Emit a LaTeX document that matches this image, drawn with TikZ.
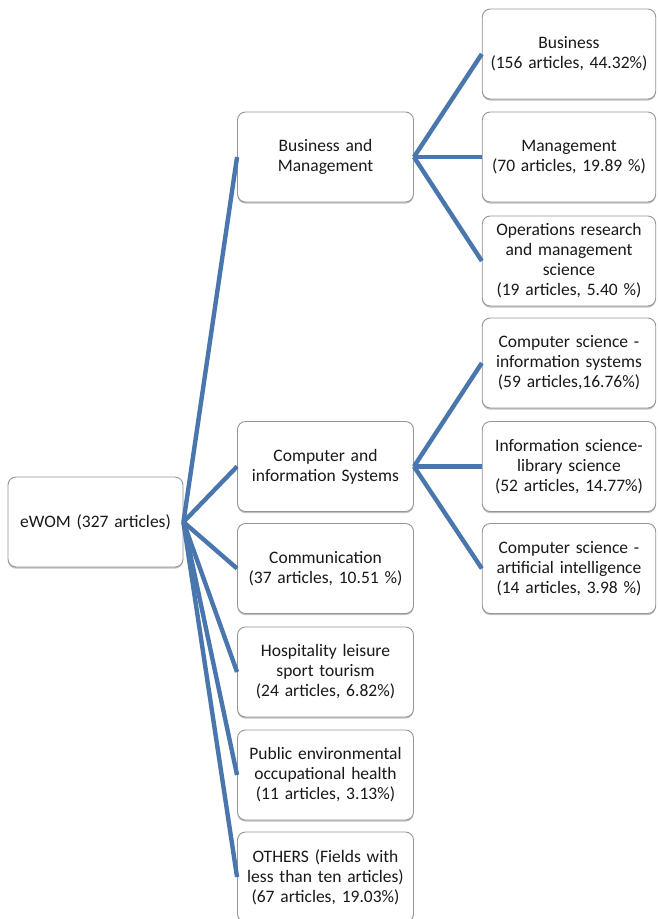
\documentclass[tikz,border=0pt]{standalone}
\usepackage{fontspec}
\setmainfont[WordSpace=0.7]{Carlito}
\usetikzlibrary{shadows}
\definecolor{linkblue}{RGB}{74,118,174}
\definecolor{boxline}{RGB}{150,150,150}
\tikzset{
  box/.style={draw=boxline, line width=0.9pt, rounded corners=8pt, fill=white,
    drop shadow={shadow xshift=0pt, shadow yshift=-1.6pt, opacity=0.55, fill=black!45},
    minimum height=90pt, inner sep=1pt, align=center, text=black!90,
    font=\fontsize{17.5}{20}\selectfont},
  midbox/.style={box, minimum width=176pt, text width=172pt},
  rightbox/.style={box, minimum width=173.5pt, text width=170pt},
  link/.style={draw=linkblue, line width=4.4pt}
}
\begin{document}
\begin{tikzpicture}[x=1pt,y=-1pt]
\useasboundingbox (0,0) rectangle (657,919);
% root
\node[box, minimum width=175pt, text width=171pt] (root) at (95.5,522) {eWOM (327 articles)};
% middle column
\node[midbox] (bm) at (325.5,157) {Business and\\Management};
\node[midbox] (cis) at (325.5,466.5) {Computer and\\information Systems};
\node[midbox] (com) at (325.5,568.5) {Communication\\(37 articles, 10.51 \%)};
\node[midbox] (hosp) at (325.5,672) {Hospitality leisure\\sport tourism\\(24 articles, 6.82\%)};
\node[midbox] (pub) at (325.5,775) {Public environmental\\occupational health\\(11 articles, 3.13\%)};
\node[midbox] (oth) at (325.5,877) {OTHERS (Fields with\\less than ten articles)\\(67 articles, 19.03\%)};
% right column
\node[rightbox] (bus) at (569,54) {Business\\(156 articles, 44.32\%)};
\node[rightbox] (man) at (569,157) {Management\\(70 articles, 19.89 \%)};
\node[rightbox] (ops) at (569,261) {Operations research\\and management\\science\\(19 articles, 5.40 \%)};
\node[rightbox] (csis) at (569,363) {Computer science -\\information systems\\(59 articles,16.76\%)};
\node[rightbox] (isls) at (569,466.5) {Information science-\\library science\\(52 articles, 14.77\%)};
\node[rightbox] (csai) at (569,568.5) {Computer science -\\artificial intelligence\\(14 articles, 3.98 \%)};
% connectors
\foreach \t in {bm,cis,com,hosp,pub,oth}
  \draw[link] (root.east) -- (\t.west);
\foreach \t in {bus,man,ops}
  \draw[link] (bm.east) -- (\t.west);
\foreach \t in {csis,isls,csai}
  \draw[link] (cis.east) -- (\t.west);
\end{tikzpicture}
\end{document}
